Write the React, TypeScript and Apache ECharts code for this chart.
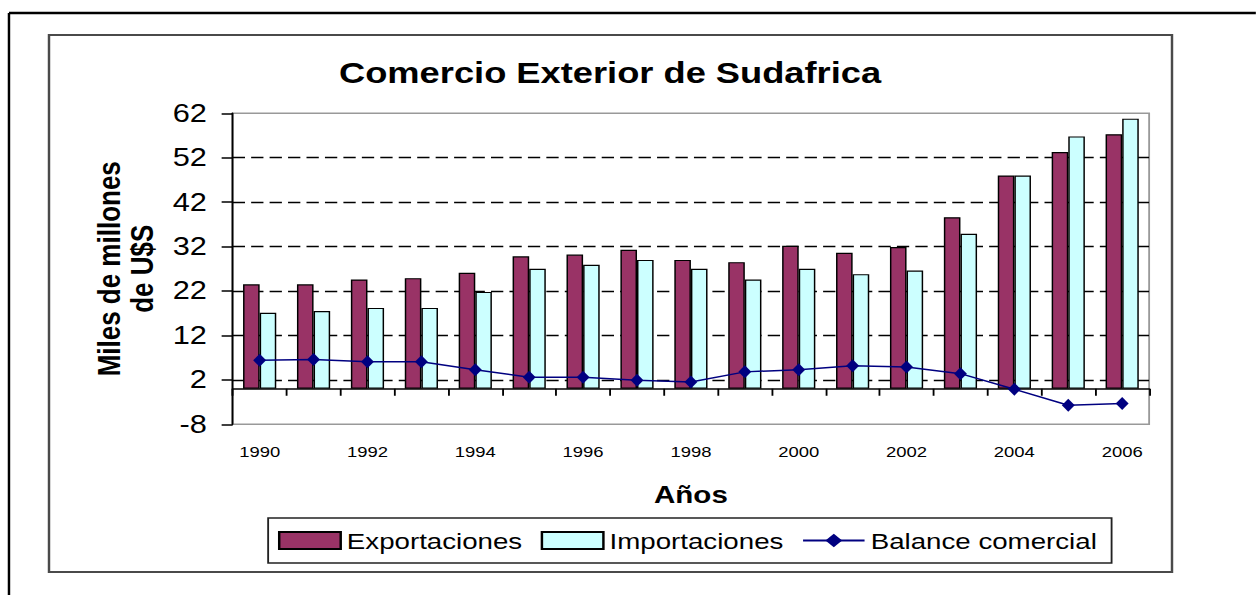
import React, { useEffect, useRef } from "react";
import * as echarts from "echarts";

// ---- data ----
const years = [
  "1990", "1991", "1992", "1993", "1994", "1995", "1996", "1997", "1998",
  "1999", "2000", "2001", "2002", "2003", "2004", "2005", "2006",
];
const exportaciones = [
  23.5, 23.5, 24.6, 24.9, 26.1, 29.8, 30.2, 31.3, 29.0,
  28.5, 32.2, 30.6, 31.9, 38.6, 48.0, 53.3, 57.3,
];
const importaciones = [
  17.1, 17.5, 18.2, 18.2, 21.8, 27.0, 27.9, 29.0, 27.0,
  24.6, 27.0, 25.8, 26.6, 34.9, 48.0, 56.8, 60.8,
];
const balanceComercial = [
  6.4, 6.6, 6.1, 6.1, 4.3, 2.6, 2.6, 1.9, 1.5,
  3.8, 4.3, 5.2, 4.9, 3.4, -0.1, -3.7, -3.3,
];
const yMin = -8;
const yMax = 62;
const yStep = 10;

const titleText = "Comercio Exterior de Sudafrica";
const xName = "Años";
const yName = "Miles de millones\nde U$S";

// the reference picture is horizontally stretched
const S = 1.23;
const H = 595;
const W = 1256 / S;
const FONT = "'Liberation Sans', Arial, sans-serif";

export default function App() {
  const ref = useRef<HTMLDivElement>(null);

  useEffect(() => {
    if (!ref.current) return;
    const chart = echarts.init(ref.current, null, { renderer: "svg" });
    const plotLeft = 232.7 / S;
    const plotRight = 1149.3 / S;
    chart.setOption({
      animation: false,
      backgroundColor: "#fff",
      textStyle: { fontFamily: FONT, color: "#000" },
      title: {
        text: titleText,
        left: 496,
        top: 58,
        padding: 0,
        textAlign: "center",
        textStyle: { fontSize: 29.5, fontWeight: "bold", color: "#000", fontFamily: FONT },
      },
      graphic: [
        { type: "line", shape: { x1: 7.3, y1: 13, x2: W, y2: 13 }, style: { stroke: "#000", lineWidth: 2.5 } },
        { type: "line", shape: { x1: 7.3, y1: 13, x2: 7.3, y2: H }, style: { stroke: "#000", lineWidth: 2 } },
        {
          type: "rect",
          shape: { x: 49 / S, y: 35, width: (1172 - 49) / S, height: 537 },
          style: { fill: "none", stroke: "#4a4a4a", lineWidth: 2 },
        },
      ],
      legend: {
        left: 218,
        top: 518,
        orient: "horizontal",
        padding: [11, 12, 11, 8],
        itemGap: 15,
        itemWidth: 50,
        itemHeight: 17,
        borderColor: "#222",
        borderWidth: 1.5,
        textStyle: { fontSize: 22.5, color: "#000", fontFamily: FONT },
        data: [
          { name: "Exportaciones", icon: "rect" },
          { name: "Importaciones", icon: "rect" },
          { name: "Balance comercial" },
        ],
      },
      grid: {
        left: plotLeft,
        right: W - plotRight,
        top: 113.3,
        bottom: H - 424.3,
        show: true,
        borderColor: "#999",
        borderWidth: 1.5,
        backgroundColor: "#fff",
        containLabel: false,
      },
      xAxis: {
        type: "category",
        data: years,
        boundaryGap: true,
        name: xName,
        nameLocation: "middle",
        nameGap: 59,
        nameTextStyle: { fontSize: 24, fontWeight: "bold", color: "#000", fontFamily: FONT },
        axisLine: { show: true, onZero: true, lineStyle: { color: "#000", width: 1.5 } },
        axisTick: { show: true, interval: 0, length: 7, lineStyle: { color: "#000", width: 1.5 } },
        axisLabel: { interval: 1, margin: 20, fontSize: 15, color: "#000", fontFamily: FONT },
        splitLine: { show: false },
      },
      yAxis: {
        type: "value",
        min: yMin,
        max: yMax,
        interval: yStep,
        name: yName,
        nameLocation: "middle",
        nameGap: 60,
        nameTextStyle: { fontSize: 26, fontWeight: "bold", lineHeight: 27, color: "#000", fontFamily: FONT, align: "center" },
        axisLine: { show: true, lineStyle: { color: "#000", width: 1.5 } },
        axisTick: { show: true, length: 9, lineStyle: { color: "#000", width: 1.5 } },
        axisLabel: { margin: 21, fontSize: 25, color: "#000", fontFamily: FONT },
        splitLine: {
          show: true,
          showMinLine: false,
          showMaxLine: false,
          lineStyle: { color: "#000", width: 1.3, type: [10, 5] },
        },
      },
      series: [
        {
          name: "Exportaciones",
          type: "bar",
          data: exportaciones,
          barWidth: 13.5,
          barGap: "0%",
          itemStyle: { color: "#993366", borderColor: "#000", borderWidth: 1.2 },
        },
        {
          name: "Importaciones",
          type: "bar",
          data: importaciones,
          barWidth: 13.5,
          barGap: "0%",
          itemStyle: { color: "#CCFFFF", borderColor: "#000", borderWidth: 1.2 },
        },
        {
          name: "Balance comercial",
          type: "line",
          data: balanceComercial,
          symbol: "diamond",
          symbolSize: [10.5, 13],
          showAllSymbol: true,
          lineStyle: { color: "#000080", width: 1.5 },
          itemStyle: { color: "#000080" },
          z: 5,
        },
      ],
    });
    return () => chart.dispose();
  }, []);

  return (
    <div
      style={{
        position: "fixed",
        left: 0,
        top: 0,
        width: 1256,
        height: H,
        overflow: "hidden",
        background: "#fff",
      }}
    >
      <div
        ref={ref}
        style={{
          width: W,
          height: H,
          transform: `scaleX(${S})`,
          transformOrigin: "0 0",
        }}
      />
    </div>
  );
}
